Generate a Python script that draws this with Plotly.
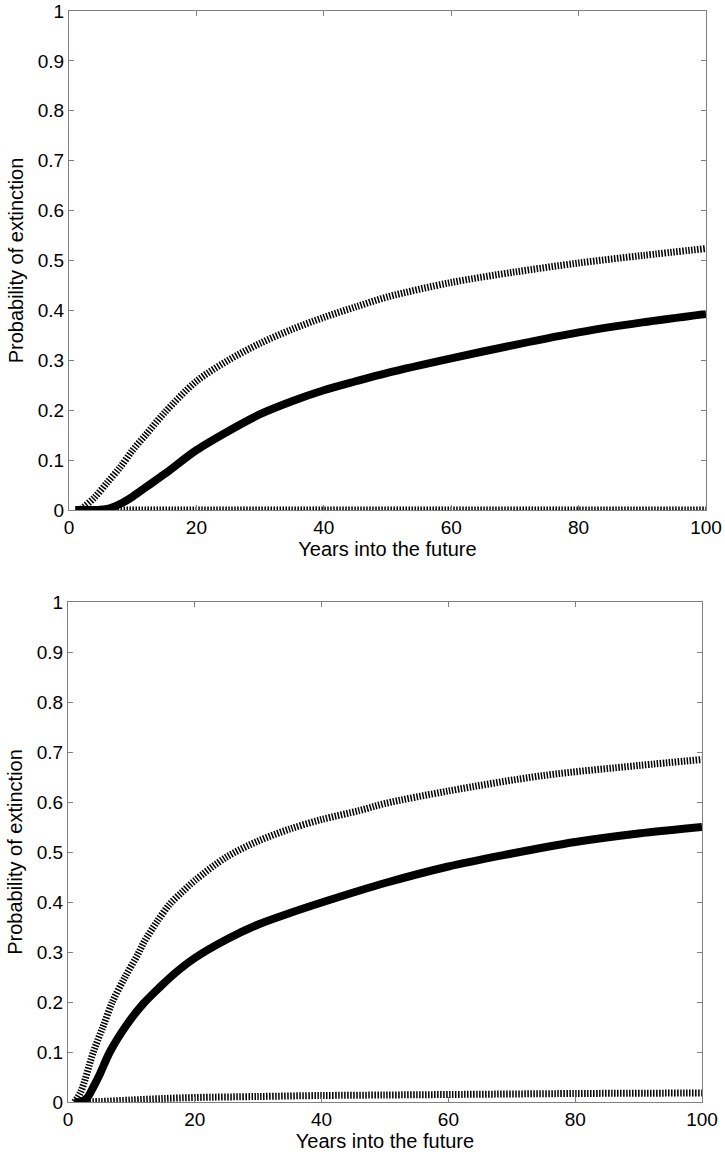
import plotly.graph_objects as go

# ---- Top panel data ----
top_upper_x = [1.5, 2, 4, 6, 8, 10, 12, 15, 20, 25, 30, 35, 40, 45, 50, 60, 70, 80, 90, 100]
top_upper_y = [0.0, 0.003, 0.025, 0.055, 0.085, 0.12, 0.15, 0.195, 0.258, 0.30, 0.334, 0.362,
               0.386, 0.407, 0.427, 0.456, 0.477, 0.495, 0.51, 0.524]
top_solid_x = [1, 4, 6, 8, 10, 12, 15, 20, 25, 30, 35, 40, 45, 50, 60, 70, 80, 90, 100]
top_solid_y = [0.0, 0.0, 0.002, 0.012, 0.027, 0.045, 0.072, 0.12, 0.158, 0.192, 0.218, 0.24,
               0.258, 0.275, 0.304, 0.331, 0.356, 0.376, 0.393]
top_lower_x = [1, 20, 40, 60, 80, 100]
top_lower_y = [0, 0, 0, 0, 0, 0]

# ---- Bottom panel data ----
bot_upper_x = [1, 2, 4, 5.5, 7, 9, 11, 12, 14, 16, 18, 20, 25, 30, 35, 40, 46, 50, 60, 75, 90, 100]
bot_upper_y = [0.0, 0.02, 0.1, 0.15, 0.2, 0.25, 0.295, 0.32, 0.36, 0.395, 0.42, 0.443, 0.49,
               0.522, 0.546, 0.565, 0.583, 0.597, 0.622, 0.653, 0.673, 0.685]
bot_solid_x = [1, 2, 3, 4, 5, 6.6, 9.3, 11.9, 14.5, 17.1, 20, 25, 30, 35, 40, 45, 50, 60, 70,
               75, 80, 90, 100]
bot_solid_y = [0.0, 0.0, 0.008, 0.03, 0.055, 0.1, 0.155, 0.197, 0.23, 0.26, 0.288, 0.325, 0.355,
               0.378, 0.399, 0.419, 0.438, 0.471, 0.497, 0.509, 0.52, 0.537, 0.55]
bot_lower_x = [1, 5, 10, 15, 20, 30, 40, 50, 60, 80, 100]
bot_lower_y = [0.0, 0.001, 0.004, 0.007, 0.009, 0.011, 0.013, 0.014, 0.015, 0.017, 0.018]

x_ticks = [0, 20, 40, 60, 80, 100]
y_ticks = [0, 0.1, 0.2, 0.3, 0.4, 0.5, 0.6, 0.7, 0.8, 0.9, 1]
x_title = "Years into the future"
y_title = "Probability of extinction"

W, H = 725, 1156
DOT = dict(color="#000000", width=7, dash="1.5px,1.5px")
SOLID = dict(color="black", width=8)

fig = go.Figure()
for xs, ys, style, ax in [
    (top_upper_x, top_upper_y, DOT, "1"),
    (top_lower_x, top_lower_y, DOT, "1"),
    (top_solid_x, top_solid_y, SOLID, "1"),
    (bot_upper_x, bot_upper_y, DOT, "2"),
    (bot_lower_x, bot_lower_y, DOT, "2"),
    (bot_solid_x, bot_solid_y, SOLID, "2"),
]:
    fig.add_trace(go.Scatter(
        x=xs, y=ys, mode="lines", line=dict(shape="spline", smoothing=0.9, **style),
        xaxis="x" if ax == "1" else "x2", yaxis="y" if ax == "1" else "y2",
        showlegend=False, hoverinfo="skip"))

FONT = dict(family="Liberation Sans, Arial, sans-serif", size=19, color="black")
TFONT = dict(family="Liberation Sans, Arial, sans-serif", size=20, color="black")
axis_common = dict(
    showgrid=False, zeroline=False, showline=True, linecolor="#808080", linewidth=1,
    mirror="allticks", ticks="inside", ticklen=5, tickcolor="#808080", tickwidth=1,
    tickfont=FONT, automargin=False,
)

def xa(domain, anchor):
    return dict(domain=domain, anchor=anchor, range=[0, 100], tickvals=x_ticks,
                title=dict(text=x_title, font=TFONT, standoff=2), **axis_common)

def ya(domain, anchor):
    return dict(domain=domain, anchor=anchor, range=[0, 1], tickvals=y_ticks,
                ticktext=[f"{v:g}" for v in y_ticks],
                title=dict(text=y_title, font=TFONT, standoff=8), **axis_common)

fig.update_layout(
    width=W, height=H,
    margin=dict(l=0, r=0, t=0, b=0, autoexpand=False),
    paper_bgcolor="white", plot_bgcolor="white",
    font=FONT,
    xaxis=xa([69 / W, 706 / W], "y"),
    yaxis=ya([(H - 510) / H, (H - 11) / H], "x"),
    xaxis2=xa([68 / W, 702 / W], "y2"),
    yaxis2=ya([(H - 1102) / H, (H - 602) / H], "x2"),
)

fig.write_html("out.html", config={"displayModeBar": False},
               post_script="document.body.style.margin='0';document.body.style.overflow='hidden';")
